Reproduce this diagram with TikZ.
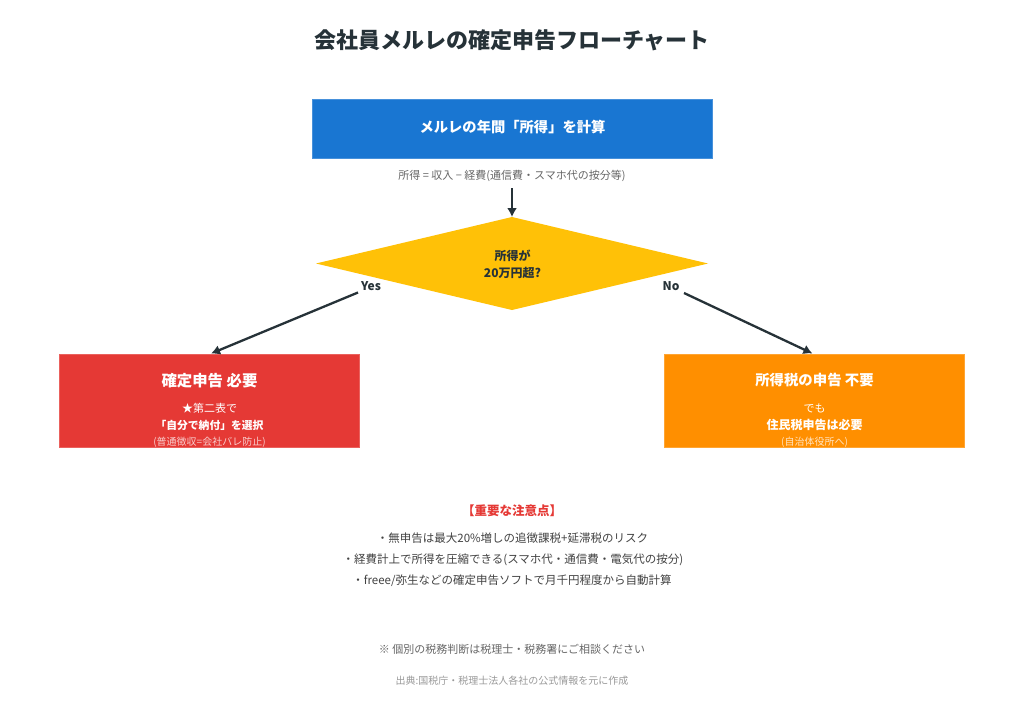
\documentclass[tikz,border=0pt]{standalone}
\usepackage{fontspec}
\setmainfont{Noto Sans CJK JP}
\usetikzlibrary{shapes.geometric,arrows.meta}
\definecolor{ink}{HTML}{263238}
\definecolor{bluebox}{HTML}{1976D2}
\definecolor{amberbox}{HTML}{FFC107}
\definecolor{redbox}{HTML}{E53935}
\definecolor{orangebox}{HTML}{FF8F00}
\definecolor{greytext}{HTML}{666666}
\definecolor{notegrey}{HTML}{424242}
\definecolor{palegrey}{HTML}{999999}
\definecolor{alertred}{HTML}{E53935}
\tikzset{
  x=1pt,y=-1pt,
  txt/.style={inner sep=0pt,outer sep=0pt,align=center,anchor=center},
  procbox/.style={rectangle,inner sep=0pt,outer sep=0pt,line width=.6pt},
  link/.style={draw=ink,line width=2.3pt,-{Latex[length=9pt,width=10pt]}},
  wbody/.style={txt,text=white,font=\fontsize{11}{14}\selectfont},
  wsmall/.style={txt,text=white,text opacity=.75,font=\fontsize{10}{12}\selectfont},
  notetext/.style={txt,text=notegrey,font=\fontsize{11.5}{14}\selectfont},
  branch/.style={txt,text=ink,font=\fontsize{12}{14}\selectfont\bfseries},
}
\begin{document}
\begin{tikzpicture}
\useasboundingbox (0,0) rectangle (1024,706);
\fill[white] (0,0) rectangle (1024,706);
\node[txt,text=ink,font=\fontsize{22}{26}\selectfont\bfseries] (title) at (512,40.5) {会社員メルレの確定申告フローチャート};
\node[procbox,fill=bluebox,draw=bluebox!80!white,minimum width=400pt,minimum height=59pt] (top) at (512.2,128.8) {};
\node[txt,text=white,font=\fontsize{14.3}{18}\selectfont\bfseries] (toplabel) at (512.5,127.5) {メルレの年間「所得」を計算};
\node[txt,text=greytext,font=\fontsize{11}{14}\selectfont] (formula) at (512,176) {所得 = 収入 − 経費(通信費・スマホ代の按分等)};
\node[diamond,fill=amberbox,inner sep=0pt,outer sep=0pt,minimum width=392pt,minimum height=93pt,aspect=4.215] (dec) at (512,263.5) {};
\node[txt,text=ink,font=\fontsize{12}{17}\selectfont\bfseries] (declabel) at (512.5,264) {所得が\\20万円超?};
\node[procbox,fill=redbox,draw=redbox!80!white,minimum width=300pt,minimum height=93pt] (left) at (209.2,400.8) {};
\node[procbox,fill=orangebox,draw=orangebox!80!white,minimum width=300pt,minimum height=93pt] (right) at (814.2,400.8) {};
\node[txt,text=white,font=\fontsize{15.4}{18}\selectfont\bfseries] (ltitle) at (209.5,380.5) {確定申告 必要};
\node[wbody] (lb1) at (209.5,408) {★第二表で};
\node[txt,text=white,font=\fontsize{10.8}{14}\selectfont\bfseries] (lb2) at (209.5,425) {「自分で納付」を選択};
\node[wsmall] (lb3) at (209.5,442.5) {(普通徴収=会社バレ防止)};
\node[txt,text=white,font=\fontsize{14.4}{18}\selectfont\bfseries] (rtitle) at (814.5,380.5) {所得税の申告 不要};
\node[wbody] (rb1) at (814.5,408) {でも};
\node[txt,text=white,font=\fontsize{12}{14}\selectfont\bfseries] (rb2) at (814.5,425) {住民税申告は必要};
\node[wsmall] (rb3) at (814.5,442.5) {(自治体役所へ)};
\node[branch] (yes) at (371,286.5) {Yes};
\node[branch] (no) at (671,286.5) {No};
\coordinate (yesstart) at (358,292.5);
\coordinate (nostart) at (684,293);
\coordinate (downstart) at (512,188);
\draw[link] (downstart) -- (dec.north);
\draw[link,shorten >=2pt] (yesstart) -- (left.north);
\draw[link,shorten >=2pt] (nostart) -- (right.north);
\node[txt,text=alertred,font=\fontsize{12.5}{15}\selectfont\bfseries] (alert) at (512,510.5) {【重要な注意点】};
\node[notetext] (n1) at (512.5,538.5) {・無申告は最大20\%増しの追徴課税+延滞税のリスク};
\node[notetext] (n2) at (513,559.5) {・経費計上で所得を圧縮できる(スマホ代・通信費・電気代の按分)};
\node[notetext] (n3) at (512,581) {・freee/弥生などの確定申告ソフトで月千円程度から自動計算};
\node[txt,text=greytext,font=\fontsize{11}{14}\selectfont] (caveat) at (512,649.5) {※ 個別の税務判断は税理士・税務署にご相談ください};
\node[txt,text=palegrey,font=\fontsize{10}{12}\selectfont] (source) at (512,680.5) {出典:国税庁・税理士法人各社の公式情報を元に作成};
\end{tikzpicture}
\end{document}
